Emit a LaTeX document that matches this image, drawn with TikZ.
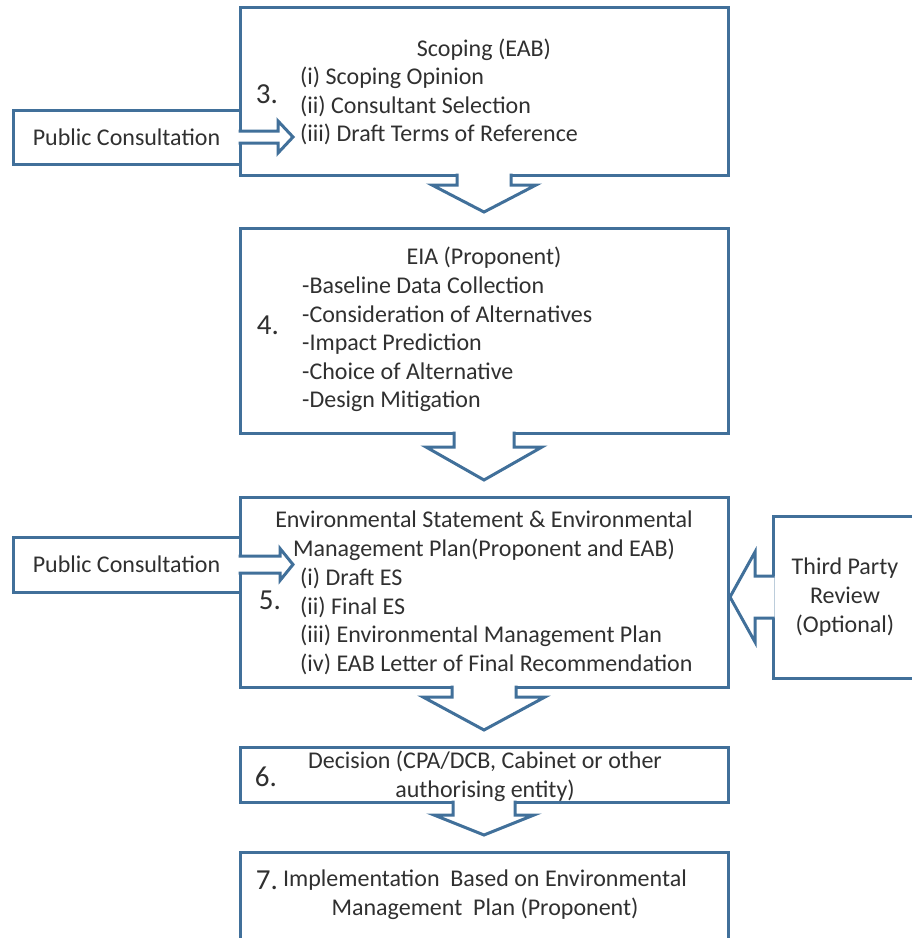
\documentclass[tikz,border=0pt]{standalone}
\usepackage{fontspec}
\setmainfont{Carlito}
\usetikzlibrary{positioning,calc}
\definecolor{boxblue}{HTML}{41709A}
\definecolor{textgray}{HTML}{303030}

\begin{document}
\begin{tikzpicture}[
    x=1pt, y=1pt,
    box/.style={
        rectangle,
        draw=boxblue,
        line width=3pt,
        fill=white,
        minimum width=488pt,
        outer sep=0pt,
        inner sep=0pt
    },
    side/.style={
        rectangle,
        draw=boxblue,
        line width=3pt,
        fill=white,
        outer sep=0pt,
        inner sep=0pt,
        text=textgray,
        align=center,
        font=\fontsize{24}{28.6}\selectfont
    },
    txt/.style={text=textgray, inner sep=0pt, font=\fontsize{24}{28.6}\selectfont},
    num/.style={text=textgray, inner sep=0pt, font=\fontsize{29}{30}\selectfont},
    blockarrow/.style={draw=boxblue, line width=3pt, fill=white, line join=miter}
]
    \useasboundingbox (0,0) rectangle (912,-938);

    % Main steps
    \node[box, minimum height=168pt] (s3) at (484,-91) {};
    \node[box, minimum height=205pt, below=53pt of s3] (s4) {};
    \node[box, minimum height=190pt, below=64pt of s4] (s5) {};
    \node[box, minimum height=55pt, below=60pt of s5] (s6) {};
    \node[box, minimum height=98pt, below=50pt of s6] (s7) {};

    % Inputs from the sides
    \node[side, minimum width=227pt, minimum height=54pt, anchor=east] (pub1) at ([yshift=-46pt]s3.west) {Public Consultation};
    \node[side, minimum width=227pt, minimum height=55pt, anchor=east] (pub2) at ([yshift=27.5pt]s5.west) {Public Consultation};
    \node[side, minimum width=220pt, minimum height=162pt, right=45pt of s5, yshift=-5pt] (review) {};
    \node[txt, align=center] (reviewtext) at ([xshift=72pt]review.west) {Third Party\\Review\\(Optional)};

    % Block arrows between the steps
    \draw[blockarrow] ([xshift=-27pt,yshift=1.5pt]s3.south) -- ++(0,-11.5) -- ++(-25,0) -- ([yshift=16pt]s4.north)
        -- ++(52,27) -- ++(-25,0) -- ([xshift=27pt,yshift=1.5pt]s3.south);
    \draw[blockarrow] ([xshift=-30pt,yshift=1.5pt]s4.south) -- ++(0,-15.5) -- ++(-28,0) -- ([yshift=17pt]s5.north)
        -- ++(58,33) -- ++(-28,0) -- ([xshift=30pt,yshift=1.5pt]s4.south);
    \draw[blockarrow] ([xshift=-32pt,yshift=1.5pt]s5.south) -- ++(0,-11.5) -- ++(-29,0) -- ([yshift=17pt]s6.north)
        -- ++(61,33) -- ++(-29,0) -- ([xshift=32pt,yshift=1.5pt]s5.south);
    \draw[blockarrow] ([xshift=-31pt,yshift=1.5pt]s6.south) -- ++(0,-14.5) -- ++(-19,0) -- ([yshift=17pt]s7.north)
        -- ++(50,20) -- ++(-19,0) -- ([xshift=31pt,yshift=1.5pt]s6.south);

    % Block arrows from the sides
    \draw[blockarrow] ([xshift=-1.5pt,yshift=6pt]pub1.east) -- ++(39.5,0) -- ++(0,10) -- ([xshift=53pt]pub1.east)
        -- ++(-15,-16) -- ++(0,10) -- ([xshift=-1.5pt,yshift=-6pt]pub1.east);
    \draw[blockarrow] ([xshift=-1.5pt,yshift=8.5pt]pub2.east) -- ++(41.5,0) -- ++(0,7.5) -- ([xshift=53pt]pub2.east)
        -- ++(-13,-16) -- ++(0,7.5) -- ([xshift=-1.5pt,yshift=-8.5pt]pub2.east);
    \draw[blockarrow] ([xshift=1.5pt,yshift=21pt]review.west) -- ++(-19.5,0) -- ++(0,24) -- ([xshift=-43pt]review.west)
        -- ++(25,-45) -- ++(0,24) -- ([xshift=1.5pt,yshift=-21pt]review.west);

    % Step 3
    \node[num] (n3) at ([xshift=27pt,yshift=-3pt]s3.west) {3.};
    \node[txt] (s3title) at ([yshift=-43pt]s3.north) {Scoping (EAB)};
    \node[txt, align=left, anchor=west] (s3list) at ([xshift=60pt,yshift=-15pt]s3.west)
        {(i) Scoping Opinion\\(ii) Consultant Selection\\(iii) Draft Terms of Reference};

    % Step 4
    \node[num] (n4) at ([xshift=28pt,yshift=5.5pt]s4.west) {4.};
    \node[txt] (s4title) at ([yshift=-30pt]s4.north) {EIA (Proponent)};
    \node[txt, align=left, anchor=west] (s4list) at ([xshift=62pt,yshift=-14pt]s4.west)
        {-Baseline Data Collection\\-Consideration of Alternatives\\-Impact Prediction\\-Choice of Alternative\\-Design Mitigation};

    % Step 5
    \node[num] (n5) at ([xshift=30pt,yshift=-8pt]s5.west) {5.};
    \node[txt, align=center] (s5title) at ([yshift=-39pt]s5.north)
        {Environmental Statement \& Environmental\\Management Plan(Proponent and EAB)};
    \node[txt, align=left, anchor=west] (s5list) at ([xshift=60pt,yshift=-29.5pt]s5.west)
        {(i) Draft ES\\(ii) Final ES\\(iii) Environmental Management Plan\\(iv) EAB Letter of Final Recommendation};

    % Step 6
    \node[num] (n6) at ([xshift=26pt,yshift=-2.5pt]s6.west) {6.};
    \node[txt, align=center] (s6text) at ([xshift=1pt,yshift=-1.5pt]s6.center)
        {Decision (CPA/DCB, Cabinet or other\\authorising entity)};

    % Step 7
    \node[num] (n7) at ([xshift=27pt,yshift=-28pt]s7.north west) {7.};
    \node[txt, align=center] (s7text) at ([xshift=1pt,yshift=-43pt]s7.north)
        {Implementation\ \ Based on Environmental\\Management\ \ Plan (Proponent)};
\end{tikzpicture}
\end{document}
